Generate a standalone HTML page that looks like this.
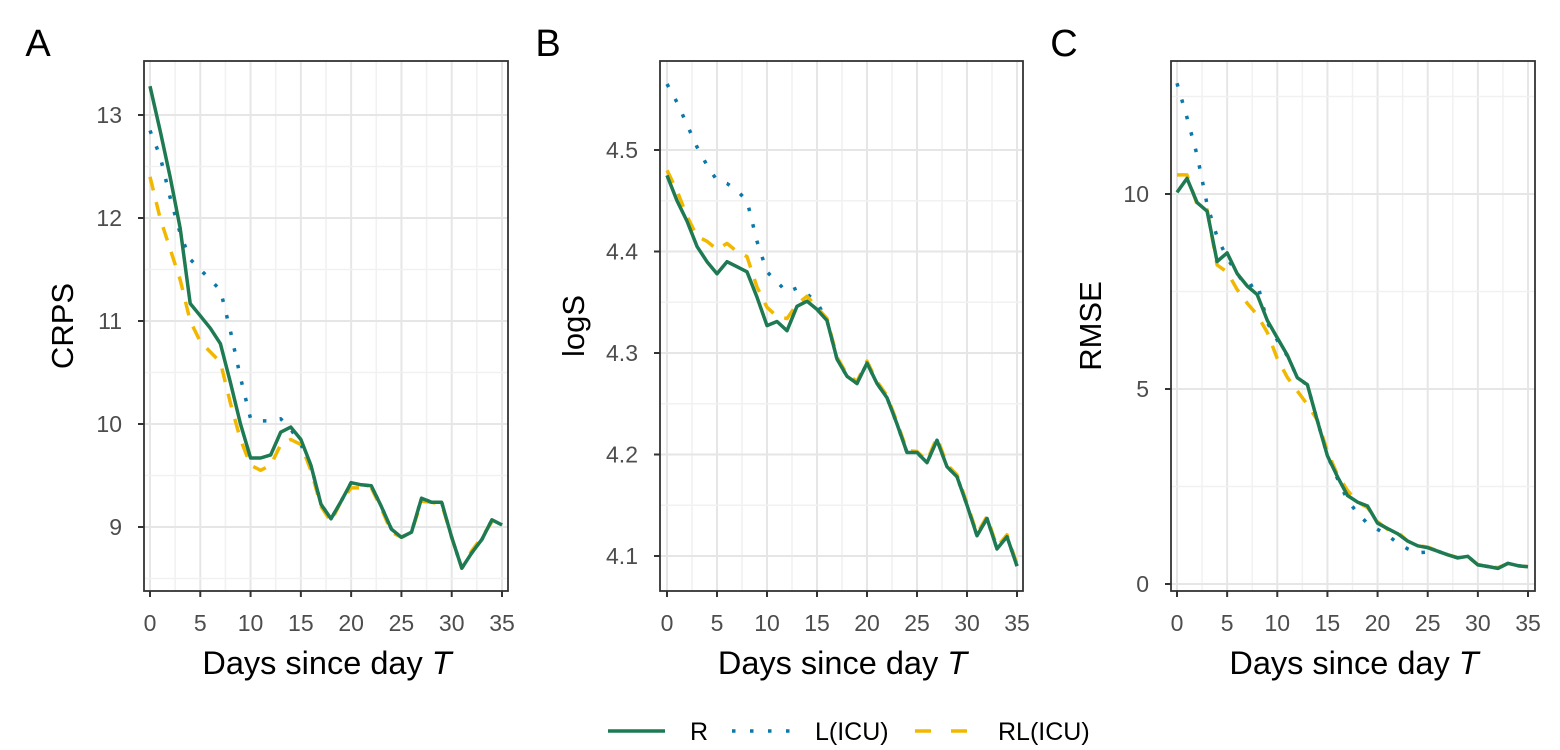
<!DOCTYPE html>
<html><head><meta charset="utf-8"><style>
body{margin:0;background:#fff;}
svg{display:block;font-family:"Liberation Sans",sans-serif;}
</style></head><body>
<svg id="chart" width="1560" height="750" viewBox="0 0 1560 750"></svg>
<script>
const days = Array.from({length:36},(_,i)=>i);
const xTicks = [0,5,10,15,20,25,30,35];
const crpsR  = [13.28,12.85,12.4,11.9,11.17,11.05,10.93,10.78,10.4,10.0,9.67,9.67,9.70,9.92,9.97,9.85,9.6,9.22,9.08,9.25,9.43,9.41,9.40,9.2,8.98,8.90,8.95,9.28,9.24,9.24,8.9,8.6,8.75,8.88,9.07,9.02];
const crpsL  = [12.85,12.6,12.2,11.85,11.6,11.5,11.4,11.3,10.9,10.45,10.05,10.03,10.03,10.05,9.95,9.8,9.6,9.22,9.08,9.25,9.43,9.41,9.40,9.2,8.98,8.90,8.95,9.28,9.24,9.24,8.9,8.6,8.75,8.88,9.07,9.02];
const crpsRL = [12.4,12.0,11.7,11.4,11.0,10.8,10.7,10.6,10.2,9.85,9.6,9.55,9.6,9.8,9.85,9.8,9.55,9.2,9.05,9.25,9.38,9.38,9.38,9.18,8.95,8.9,8.95,9.25,9.24,9.22,8.9,8.6,8.77,8.9,9.05,9.02];
const crpsTicks = [9,10,11,12,13];
const logsR  = [4.475,4.45,4.43,4.405,4.39,4.378,4.39,4.385,4.38,4.355,4.327,4.331,4.322,4.346,4.351,4.343,4.332,4.294,4.277,4.27,4.29,4.27,4.256,4.23,4.202,4.202,4.192,4.214,4.188,4.178,4.15,4.12,4.137,4.107,4.119,4.09];
const logsL  = [4.565,4.547,4.525,4.503,4.485,4.47,4.467,4.46,4.45,4.41,4.38,4.37,4.36,4.364,4.358,4.35,4.332,4.294,4.277,4.27,4.29,4.27,4.256,4.23,4.202,4.202,4.192,4.214,4.188,4.178,4.15,4.12,4.137,4.107,4.119,4.09];
const logsRL = [4.48,4.46,4.435,4.415,4.41,4.402,4.408,4.40,4.395,4.365,4.345,4.336,4.334,4.348,4.356,4.345,4.334,4.296,4.279,4.272,4.292,4.272,4.258,4.232,4.204,4.203,4.194,4.217,4.19,4.18,4.152,4.122,4.139,4.109,4.121,4.092];
const logsTicks = [4.1,4.2,4.3,4.4,4.5];
const rmseR  = [10.04,10.4,9.78,9.56,8.27,8.49,7.96,7.64,7.42,6.76,6.31,5.87,5.29,5.11,4.18,3.29,2.75,2.27,2.1,2.0,1.56,1.42,1.29,1.1,0.98,0.93,0.84,0.75,0.67,0.71,0.49,0.45,0.40,0.53,0.47,0.44];
const rmseL  = [12.84,11.96,11.0,9.73,8.9,8.36,7.96,7.6,7.73,6.7,6.25,5.85,5.3,5.1,4.18,3.29,2.7,2.15,1.82,1.55,1.4,1.25,1.05,0.9,0.8,0.82,0.84,0.75,0.67,0.71,0.49,0.45,0.40,0.53,0.47,0.44];
const rmseRL = [10.49,10.49,9.73,9.6,8.18,8.0,7.55,7.2,6.9,6.45,5.78,5.3,4.95,4.6,4.2,3.4,2.8,2.4,2.1,1.96,1.6,1.4,1.33,1.1,0.98,0.95,0.85,0.75,0.68,0.7,0.5,0.45,0.42,0.52,0.46,0.45];
const rmseTicks = [0,5,10];

const NS="http://www.w3.org/2000/svg";
const svg=document.getElementById('chart');
function mk(tag,attrs,parent){const e=document.createElementNS(NS,tag);for(const k in attrs)e.setAttribute(k,attrs[k]);(parent||svg).appendChild(e);return e;}

const panels=[
 {id:'a',letter:'A',lx:38,box:[144,61,508,591],x0:150,x35:502,yv:[13,9],yp:[115,527],ticks:crpsTicks,minor:[8.5,9.5,10.5,11.5,12.5],title:'CRPS',tx:62,R:crpsR,L:crpsL,RL:crpsRL},
 {id:'b',letter:'B',lx:548,box:[660,61,1023,591],x0:667,x35:1017,yv:[4.5,4.1],yp:[150,556],ticks:logsTicks,minor:[4.15,4.25,4.35,4.45],title:'logS',tx:573,R:logsR,L:logsL,RL:logsRL},
 {id:'c',letter:'C',lx:1064,box:[1171,61,1535,591],x0:1177,x35:1528,yv:[10,0],yp:[194,584],ticks:rmseTicks,minor:[2.5,7.5,12.5],title:'RMSE',tx:1090,R:rmseR,L:rmseL,RL:rmseRL}
];
const series=[
 {key:'L',color:'#0a78a8',dash:'3.5 13.5',cap:'butt',w:3.5},
 {key:'RL',color:'#f2b800',dash:'14 12',cap:'butt',w:3.5},
 {key:'R',color:'#1e7a52',dash:'',cap:'butt',w:3.5}
];
panels.forEach(p=>{
 const g=mk('g',{});
 
 
 const sx=d=>p.x0+(p.x35-p.x0)*d/35;
 const sy=v=>p.yp[0]+(p.yp[1]-p.yp[0])*(v-p.yv[0])/(p.yv[1]-p.yv[0]);
 const [l,t,r,b]=p.box;
 for(let d=-2.5;d<=37.5;d+=2.5){const x=sx(d);if(x<l||x>r)continue;
  const ln=mk('line',{x1:x,x2:x,y1:t,y2:b,stroke:d%5===0?'#e6e6e6':'#f1f1f1','stroke-width':d%5===0?2:1.5},g);
  }
 p.minor.forEach(v=>{const y=sy(v);if(y<t||y>b)return;
  const ln=mk('line',{x1:l,x2:r,y1:y,y2:y,stroke:'#f1f1f1','stroke-width':1.5},g);
  });
 p.ticks.forEach(v=>{const y=sy(v);
  const ln=mk('line',{x1:l,x2:r,y1:y,y2:y,stroke:'#e6e6e6','stroke-width':2},g);
  
  const tk=mk('line',{x1:l-6,x2:l,y1:y,y2:y,stroke:'#333','stroke-width':2},g);
  
  const tx=mk('text',{x:l-22,y:y+8,'text-anchor':'end','font-size':23,fill:'#4d4d4d'},g);
  tx.textContent=String(v);
  });
 xTicks.forEach(d=>{const x=sx(d);
  const tk=mk('line',{x1:x,x2:x,y1:b,y2:b+6,stroke:'#333','stroke-width':2},g);
  
  const tx=mk('text',{x:x,y:b+40,'text-anchor':'middle','font-size':23,fill:'#4d4d4d'},g);
  tx.textContent=String(d);
  });
 const cp=mk('clipPath',{id:'clip'+p.id},g);mk('rect',{x:l,y:t,width:r-l,height:b-t},cp);
 series.forEach(s=>{
  const pts=days.map((d,i)=>sx(d).toFixed(1)+','+sy(p[s.key][i]).toFixed(1)).join(' ');
  const pl=mk('polyline',{points:pts,fill:'none',stroke:s.color,'stroke-width':s.w,'stroke-dasharray':s.dash,'stroke-linecap':s.cap,'stroke-linejoin':'round','clip-path':'url(#clip'+p.id+')'},g);
  
  
 });
 const fr=mk('rect',{x:l,y:t,width:r-l,height:b-t,fill:'none',stroke:'#333','stroke-width':1.8},g);
 
 const lt=mk('text',{x:p.lx,y:56,'text-anchor':'middle','font-size':38,fill:'#000'},g);
 lt.textContent=p.letter;
 
 const yt=mk('text',{x:0,y:0,'text-anchor':'middle','font-size':31,fill:'#000',transform:`translate(${p.tx+11},${(t+b)/2}) rotate(-90)`},g);
 yt.textContent=p.title;
 
 const xt=mk('text',{x:(l+r)/2+1,y:674,'text-anchor':'middle','font-size':32.5,fill:'#000'},g);
 xt.innerHTML='Days since day <tspan font-style="italic">T</tspan>';
 
});
const lg=mk('g',{});


const legendItems=[
 {label:'R',x1:608,x2:665,tx:690,s:series[2]},
 {label:'L(ICU)',x1:732,x2:792,tx:815,s:series[0]},
 {label:'RL(ICU)',x1:915,x2:968,tx:998,s:series[1]}
];
legendItems.forEach(it=>{
 const ln=mk('line',{x1:it.x1,x2:it.x2,y1:731,y2:731,stroke:it.s.color,'stroke-width':it.s.w,'stroke-dasharray':it.s.key==='RL'?'16 20':(it.s.key==='L'?'3.5 14.5':''),'stroke-linecap':it.s.cap},lg);
 
 const tx=mk('text',{x:it.tx,y:740,'font-size':25,fill:'#000'},lg);
 tx.textContent=it.label;
 
});
</script>
</body></html>
